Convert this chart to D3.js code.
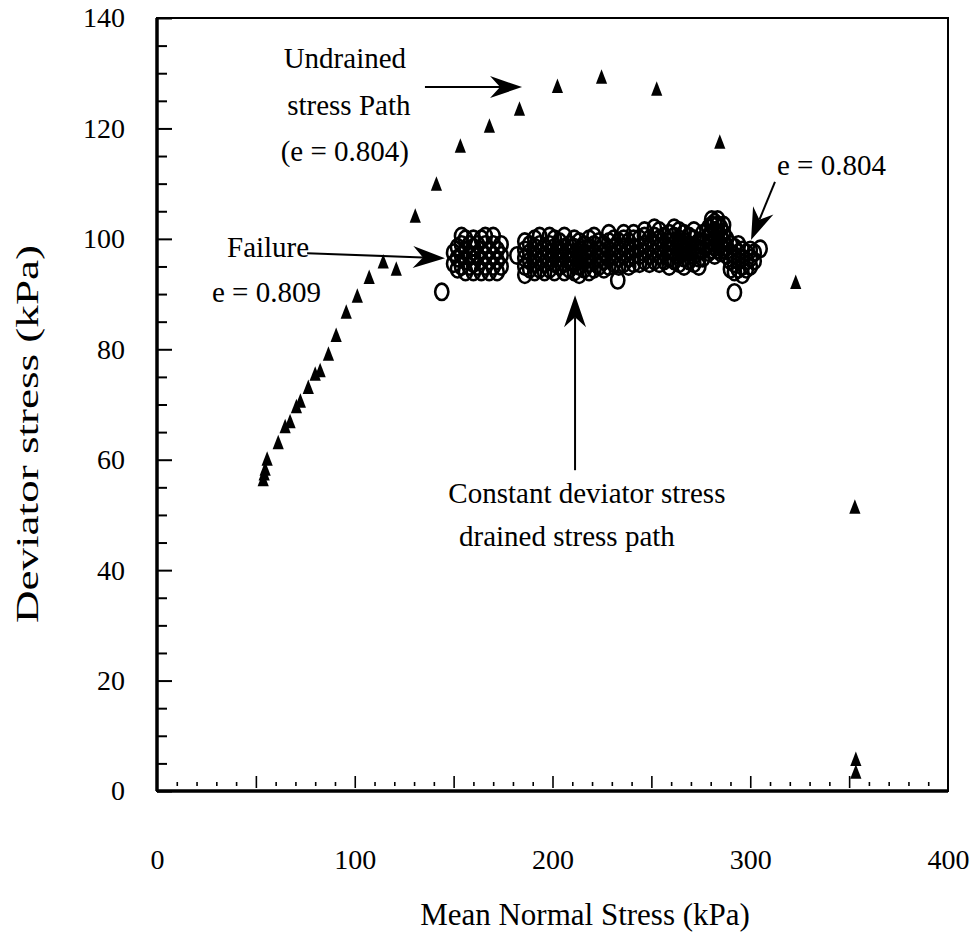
<!DOCTYPE html>
<html>
<head>
<meta charset="utf-8">
<script src="https://cdn.jsdelivr.net/npm/d3@7"></script>
<style>
  body { margin: 0; background: #fff; }
  svg text { font-family: "Liberation Serif", "Times New Roman", Times, serif; fill: #000; }
</style>
</head>
<body>
<div class="chart"></div>
<script>
// page + plot frame
const WIDTH = 979;
const HEIGHT = 942;
const MARGIN = { top: 18, right: 31, bottom: 151, left: 157 };
const W = WIDTH - MARGIN.left - MARGIN.right;
const H = HEIGHT - MARGIN.top - MARGIN.bottom;
const FONT = '"Liberation Serif", "Times New Roman", Times, serif';

// axis ticks
const Y_MAJOR = [0, 20, 40, 60, 80, 100, 120, 140];
const Y_MINOR = d3.range(0, 141, 5).filter((v) => v % 20 !== 0);
const X_LABELS = [0, 100, 200, 300, 400];
const X_MAJOR = [50, 100, 150, 200, 250, 300, 350];
const X_MINOR = d3.range(10, 400, 10).filter((v) => v % 50 !== 0);

// undrained stress path (triangles): [mean normal stress, deviator stress]
const undrained = [
  [53.7, 56.3], [54.2, 57.3], [54.7, 58.2], [55.7, 60], [61.3, 63], [64.8, 65.9],
  [67.3, 66.8], [70.5, 69.5], [72.5, 70.5], [76.5, 73], [80, 75.4], [82.5, 76],
  [86.7, 79], [90.6, 82.4], [95.7, 86.6], [101.3, 89.5], [107.3, 92.9], [114.4, 95.7],
  [121, 94.4], [130.6, 104], [141.3, 109.8], [153.4, 116.7], [168.1, 120.3],
  [183.3, 123.4], [202.5, 127.5], [224.8, 129.2], [252.7, 127], [284.6, 117.4],
  [323, 92], [352.9, 51.3], [353.4, 5.6], [353.4, 3.3]
];

// constant deviator stress drained path (circles)
// each row: [mean normal stress, deviator stress readings stacked at that p...]
const drainedA = [
  [150, 95.5, 97.5], [152, 94.5, 96.5, 98.5], [154, 95, 97, 99, 100.5],
  [156, 94, 96, 98, 100], [158, 95, 97, 99], [160, 94, 95.5, 97, 98.5, 100],
  [162, 95, 97, 99], [164, 94, 96, 98, 100], [166, 95, 97, 99, 100.5],
  [168, 94, 96, 98], [170, 95, 97, 99, 100.5], [172, 94, 96, 98], [174, 95, 97, 99],
  [182, 97]
];
const drainedB = [
  [186, 93.5, 95, 96.5, 98, 99.5], [188.5, 94.5, 96, 97.5, 99], [191, 94, 95.5, 97, 98.5, 100],
  [193.5, 94.5, 96, 97.5, 99, 100.5], [196, 94, 95.5, 97, 98.5], [198.5, 94.5, 96, 97.5, 99, 100.5],
  [201, 94, 95.5, 97, 98.5, 100], [203.5, 95, 96.5, 98, 99.5], [206, 94, 95.5, 97, 98.5, 100.5],
  [208.5, 94.5, 96, 97.5, 99], [211, 94, 95.5, 97, 98.5, 100], [213.5, 93.5, 95, 96.5, 98, 99.5],
  [216, 94.5, 96, 97.5, 99], [218.5, 94, 95.5, 97, 98.5, 100], [221, 94.5, 96, 97.5, 99, 100.5],
  [223.5, 95, 96.5, 98, 99.5], [226, 94.5, 96, 97.5, 99], [228.5, 95, 96.5, 98, 99.5, 101],
  [231, 95.5, 97, 98.5, 100], [233, 92.5], [233.5, 95, 96.5, 98, 99.5],
  [236, 95.5, 97, 98.5, 100, 101], [238.5, 95, 96.5, 98, 99.5], [241, 95.5, 97, 98.5, 100, 101]
];
const drainedC = [
  [244, 95.5, 97, 98.5, 100], [246.5, 96, 97.5, 99, 100.5, 101.5], [249, 95.5, 97, 98.5, 100],
  [251.5, 96, 97.5, 99, 100.5, 102], [254, 95.5, 97, 98.5, 100, 101.5], [256.5, 96, 97.5, 99, 100.5],
  [259, 95, 96.5, 98, 99.5, 101], [261.5, 96, 97.5, 99, 100.5, 102], [264, 95.5, 97, 98.5, 100, 101.5],
  [266.5, 95, 96.5, 98, 99.5, 101], [269, 96, 97.5, 99, 100.5], [271.5, 95.5, 97, 98.5, 100, 101.5],
  [274, 95, 96.5, 98, 99.5], [276, 96.5, 98, 99.5, 101]
];
const drainedD = [
  [279, 97.5, 99, 100.5, 102], [280.5, 98, 99.5, 101, 102.5, 103.5], [282, 97, 98.5, 100, 101.5, 103],
  [283.5, 98, 99.5, 101, 102.5, 103.5], [285, 97.5, 99, 100.5, 102], [286.5, 98, 99.5, 101, 102.5],
  [288, 97, 98.5, 100]
];
const drainedE = [
  [290, 94.5, 96, 97.5, 99], [292, 94, 95.5, 97, 98.5], [294, 94.5, 96, 97.5, 99],
  [296, 93.5, 95, 96.5, 98], [298, 94.5, 96, 97.5], [300, 95, 96.5, 98], [302, 96, 97.5],
  [305, 98.2]
];
const drainedOut = [[144, 90.4], [292, 90.3]];

// annotations, placed in data units
const labels = [
  { text: "Undrained", p: 95, q: 131, anchor: "middle" },
  { text: "stress Path", p: 97, q: 122.4, anchor: "middle" },
  { text: "(e = 0.804)", p: 95, q: 114.1, anchor: "middle" },
  { text: "Failure", p: 35.4, q: 96.7, anchor: "start" },
  { text: "e = 0.809", p: 27.8, q: 88.6, anchor: "start" },
  { text: "e = 0.804", p: 313.5, q: 111.6, anchor: "start" },
  { text: "Constant deviator stress", p: 217.4, q: 52.2, anchor: "middle" },
  { text: "drained stress path", p: 207.3, q: 44.4, anchor: "middle" }
];
const arrows = [
  { from: [135.5, 127.5], to: [184.6, 127.5] },
  { from: [75.9, 97.4], to: [145.6, 96.5] },
  { from: [312.5, 110.3], to: [300.4, 99.8] },
  { from: [211.4, 58.1], to: [211.4, 89.8] }
];

var root = d3
  .select(".chart")
  .append("svg")
  .attr("width", WIDTH)
  .attr("height", HEIGHT);

var svg = root
  .append("g")
  .attr("transform", "translate(" + MARGIN.left + "," + MARGIN.top + ")");

var x = d3.scaleLinear().domain([0, 400]).range([0, W]);
var y = d3.scaleLinear().domain([0, 140]).range([H, 0]);

// y axis: major ticks with labels, then minor ticks (ticks point inward)
svg
  .append("g")
  .call(d3.axisLeft(y).tickValues(Y_MAJOR).tickSize(-15).tickSizeOuter(0).tickPadding(32))
  .call((g) => g.select(".domain").remove())
  .call((g) => g.selectAll(".tick line").attr("stroke", "#000").attr("stroke-width", 2))
  .call((g) => g.selectAll(".tick text").style("font-family", FONT).style("font-size", "28px"));

svg
  .append("g")
  .call(d3.axisLeft(y).tickValues(Y_MINOR).tickSize(-10).tickSizeOuter(0).tickFormat(""))
  .call((g) => g.select(".domain").remove())
  .call((g) => g.selectAll(".tick line").attr("stroke", "#000").attr("stroke-width", 2));

// x axis: labels below, short ticks pointing up
svg
  .append("g")
  .attr("transform", `translate(0,${H})`)
  .call(d3.axisBottom(x).tickValues(X_LABELS).tickSize(0).tickPadding(58))
  .call((g) => g.select(".domain").remove())
  .call((g) => g.selectAll(".tick text").style("font-family", FONT).style("font-size", "28px"));

svg
  .append("g")
  .attr("transform", `translate(0,${H - 3})`)
  .call(d3.axisBottom(x).tickValues(X_MAJOR).tickSize(-12).tickSizeOuter(0).tickFormat(""))
  .call((g) => g.select(".domain").remove())
  .call((g) => g.selectAll(".tick line").attr("stroke", "#000").attr("stroke-width", 1.6));

svg
  .append("g")
  .attr("transform", `translate(0,${H - 5})`)
  .call(d3.axisBottom(x).tickValues(X_MINOR).tickSize(-4).tickSizeOuter(0).tickFormat(""))
  .call((g) => g.select(".domain").remove())
  .call((g) => g.selectAll(".tick line").attr("stroke", "#000").attr("stroke-width", 1.6));

// frame
svg
  .append("rect")
  .attr("width", W)
  .attr("height", H)
  .attr("fill", "none")
  .attr("stroke", "#000")
  .attr("stroke-width", 2);
svg.append("line").attr("x1", 0).attr("x2", 0).attr("y1", 0).attr("y2", H)
  .attr("stroke", "#000").attr("stroke-width", 3.5);
svg.append("line").attr("x1", 0).attr("x2", W).attr("y1", H).attr("y2", H)
  .attr("stroke", "#000").attr("stroke-width", 3.5);

// drained path circles
const drained = [];
[drainedA, drainedB, drainedC, drainedD, drainedE, drainedOut].forEach(function (grp) {
  grp.forEach(function (row) {
    for (var i = 1; i < row.length; i++) drained.push([row[0], row[i]]);
  });
});

svg
  .append("g")
  .selectAll("ellipse")
  .data(drained)
  .enter()
  .append("ellipse")
  .attr("cx", (d) => x(d[0]))
  .attr("cy", (d) => y(d[1]))
  .attr("rx", 6.6)
  .attr("ry", 8.2)
  .attr("fill", "none")
  .attr("stroke", "#000")
  .attr("stroke-width", 2.6);

// undrained path triangles
svg
  .append("g")
  .selectAll("path")
  .data(undrained)
  .enter()
  .append("path")
  .attr("d", "M0,-8.5L5.6,6L-5.6,6Z")
  .attr("transform", (d) => `translate(${x(d[0])},${y(d[1])})`)
  .attr("fill", "#000");

// annotation arrows with barbed heads
arrows.forEach(function (a) {
  var x1 = x(a.from[0]), y1 = y(a.from[1]);
  var x2 = x(a.to[0]), y2 = y(a.to[1]);
  var ang = Math.atan2(y2 - y1, x2 - x1);
  var len = 32, half = 11, notch = 22;
  var ux = Math.cos(ang), uy = Math.sin(ang);
  var bx = x2 - ux * len, by = y2 - uy * len;
  var nx = x2 - ux * notch, ny = y2 - uy * notch;
  svg.append("line")
    .attr("x1", x1).attr("y1", y1).attr("x2", nx).attr("y2", ny)
    .attr("stroke", "#000").attr("stroke-width", 2);
  svg.append("path")
    .attr("d", `M${x2},${y2}L${bx - uy * half},${by + ux * half}L${nx},${ny}L${bx + uy * half},${by - ux * half}Z`)
    .attr("fill", "#000");
});

// annotation text
svg
  .append("g")
  .selectAll("text")
  .data(labels)
  .enter()
  .append("text")
  .attr("x", (d) => x(d.p))
  .attr("y", (d) => y(d.q))
  .attr("text-anchor", (d) => d.anchor)
  .style("font-family", FONT)
  .style("font-size", "29px")
  .text((d) => d.text);

// axis titles
root
  .append("text")
  .attr("x", 585)
  .attr("y", 925)
  .attr("text-anchor", "middle")
  .style("font-family", FONT)
  .style("font-size", "31px")
  .text("Mean Normal Stress (kPa)");

root
  .append("text")
  .attr("transform", "translate(38,434) rotate(-90)")
  .attr("text-anchor", "middle")
  .attr("textLength", 378)
  .attr("lengthAdjust", "spacingAndGlyphs")
  .style("font-family", FONT)
  .style("font-size", "31px")
  .text("Deviator stress (kPa)");
</script>
</body>
</html>
